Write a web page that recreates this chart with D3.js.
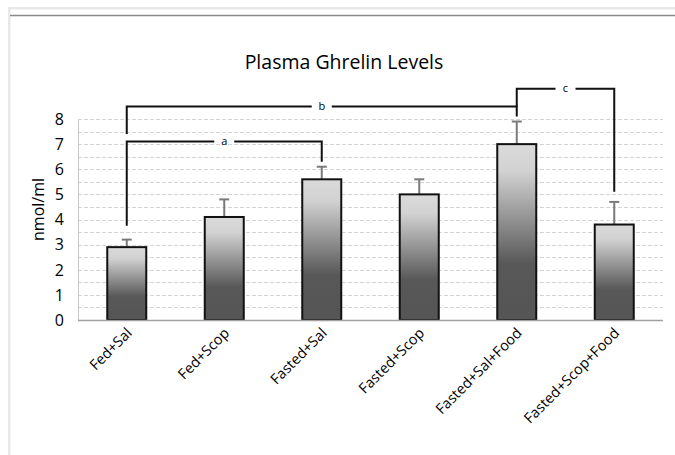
<!DOCTYPE html>
<html>
<head>
<meta charset="utf-8">
<script src="https://cdn.jsdelivr.net/npm/d3@7"></script>
<style>
  body { margin: 0; background: #fff; }
  text { font-family: "Open Sans", "Noto Sans", sans-serif; fill: #000; }
</style>
</head>
<body>
<div id="chart"></div>
<script>
// Data
const groups = ["Fed+Sal", "Fed+Scop", "Fasted+Sal", "Fasted+Scop", "Fasted+Sal+Food", "Fasted+Scop+Food"];
const means = [2.9, 4.1, 5.6, 5.0, 7.0, 3.8];
const errors = [0.3, 0.7, 0.5, 0.6, 0.9, 0.9];
const yTicks = [0, 1, 2, 3, 4, 5, 6, 7, 8];

// Significance brackets: from group, to group, bar height, leg ends, label
const bracketFrom = ["Fed+Sal", "Fed+Sal", "Fasted+Sal+Food"];
const bracketTo = ["Fasted+Sal", "Fasted+Sal+Food", "Fasted+Scop+Food"];
const bracketLevel = [7.1, 8.5, 9.2];
const bracketLeftEnd = [3.75, 7.4, 8.5];
const bracketRightEnd = [6.3, 8.1, 5.1];
const bracketLabels = ["a", "b", "c"];

const width = 675;
const height = 455;
const margins = {top: 119, right: 12, bottom: 135, left: 78};

const svg = d3.select("#chart")
    .append("svg")
    .attr("width", width)
    .attr("height", height);

// Outer frame
svg.append("rect").attr("x", 8).attr("y", 7).attr("width", 667).attr("height", 2.5).attr("fill", "#e8e8e8");
svg.append("rect").attr("x", 8).attr("y", 7).attr("width", 2.5).attr("height", 448).attr("fill", "#e8e8e8");
svg.append("line").attr("x1", 10).attr("x2", 675).attr("y1", 15.5).attr("y2", 15.5)
    .attr("stroke", "#8a8a8a").attr("stroke-width", 1.5);

// Gradient for bars
const grad = svg.append("defs").append("linearGradient")
    .attr("id", "barGrad")
    .attr("x1", 0).attr("y1", 0).attr("x2", 0).attr("y2", 1);
grad.append("stop").attr("offset", "0%").attr("stop-color", "#dadada");
grad.append("stop").attr("offset", "15%").attr("stop-color", "#d2d2d2");
grad.append("stop").attr("offset", "68%").attr("stop-color", "#585858");
grad.append("stop").attr("offset", "100%").attr("stop-color", "#555555");

const x = d3.scaleBand()
    .domain(groups)
    .range([margins.left, width - margins.right])
    .paddingInner(0.6)
    .paddingOuter(0.3);

const y = d3.scaleLinear()
    .domain([0, 8])
    .range([height - margins.bottom, margins.top]);

// Dashed gridlines every 0.5
const gridVals = d3.range(0.5, 8.01, 0.5);
svg.append("g")
    .selectAll("line")
    .data(gridVals)
    .enter()
    .append("line")
    .attr("x1", margins.left)
    .attr("x2", width - margins.right)
    .attr("y1", d => Math.round(y(d)) + 0.5)
    .attr("y2", d => Math.round(y(d)) + 0.5)
    .attr("stroke", "#d4d4d4")
    .attr("stroke-dasharray", "4,2");

// Left axis line
svg.append("line")
    .attr("x1", margins.left + 0.5).attr("x2", margins.left + 0.5)
    .attr("y1", y(8)).attr("y2", y(0))
    .attr("stroke", "#c8c8c8");

// Y tick labels
svg.append("g")
    .selectAll("text")
    .data(yTicks)
    .enter()
    .append("text")
    .attr("x", 64)
    .attr("y", d => y(d))
    .attr("dy", "0.36em")
    .attr("text-anchor", "end")
    .style("font-size", "16px")
    .text(d => d);

// Y axis label
svg.append("text")
    .attr("transform", `translate(44,${y(4.4)}) rotate(-90)`)
    .attr("text-anchor", "middle")
    .style("font-size", "16px")
    .text("nmol/ml");

// Title
svg.append("text")
    .attr("x", 344)
    .attr("y", 69)
    .attr("text-anchor", "middle")
    .style("font-size", "19.5px")
    .text("Plasma Ghrelin Levels");

// Error bars (drawn before bars so the bar covers the lower part)
const cx = g => x(g) + x.bandwidth() / 2;
groups.forEach((g, i) => {
    svg.append("line")
        .attr("x1", cx(g)).attr("x2", cx(g))
        .attr("y1", y(means[i])).attr("y2", y(means[i] + errors[i]))
        .attr("stroke", "#7a7a7a").attr("stroke-width", 2);
    svg.append("line")
        .attr("x1", cx(g) - 5).attr("x2", cx(g) + 5)
        .attr("y1", y(means[i] + errors[i])).attr("y2", y(means[i] + errors[i]))
        .attr("stroke", "#7a7a7a").attr("stroke-width", 2);
});

// Bars
svg.append("g")
    .selectAll("rect")
    .data(groups)
    .enter()
    .append("rect")
    .attr("x", d => x(d))
    .attr("y", (d, i) => y(means[i]))
    .attr("width", x.bandwidth())
    .attr("height", (d, i) => y(0) - y(means[i]))
    .attr("fill", "url(#barGrad)")
    .attr("stroke", "#111")
    .attr("stroke-width", 2);

// Bottom axis line
svg.append("line")
    .attr("x1", margins.left).attr("x2", width - margins.right)
    .attr("y1", y(0) + 0.5).attr("y2", y(0) + 0.5)
    .attr("stroke", "#a0a0a0").attr("stroke-width", 1.5);

// X labels rotated
svg.append("g")
    .selectAll("text")
    .data(groups)
    .enter()
    .append("text")
    .attr("transform", d => `translate(${cx(d) + 6},${y(0) + 14}) rotate(-45)`)
    .attr("text-anchor", "end")
    .style("font-size", "14.5px")
    .text(d => d);

// Significance brackets
bracketLabels.forEach((lab, i) => {
    const x1 = cx(bracketFrom[i]);
    const x2 = cx(bracketTo[i]);
    const yl = y(bracketLevel[i]);
    const mid = (x1 + x2) / 2;
    const gap = 10;
    svg.append("path")
        .attr("d", `M${x1},${y(bracketLeftEnd[i])}V${yl}H${mid - gap}M${mid + gap},${yl}H${x2}V${y(bracketRightEnd[i])}`)
        .attr("fill", "none")
        .attr("stroke", "#111")
        .attr("stroke-width", 2);
    svg.append("text")
        .attr("x", mid)
        .attr("y", yl)
        .attr("dy", "0.3em")
        .attr("text-anchor", "middle")
        .style("font-size", "11px")
        .text(lab);
});
</script>
</body>
</html>
